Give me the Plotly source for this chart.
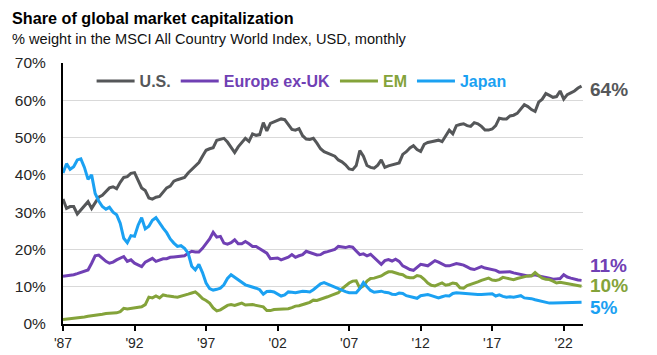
import pandas as pd
import plotly.graph_objects as go

# Quarterly readings (Jan 1987 .. Apr 2023), % weight in MSCI ACWI
us = [
    33.5, 31.0, 31.5, 31.5,  29.5, 30.5, 31.5, 32.8,  31.0, 32.5, 34.0, 34.5,
    35.5, 36.5, 36.8, 36.3,  38.0, 39.3, 39.5, 40.4,  40.6, 38.5, 36.5, 35.8,
    33.8, 33.5, 34.0, 34.2,  35.5, 36.5, 37.0, 38.3,  38.7, 39.0, 39.3, 40.5,
    41.5, 42.5, 43.3, 45.0,  46.6, 47.0, 47.3, 49.3,  49.6, 49.8, 48.8, 47.5,
    46.0, 47.5, 48.5, 49.8,  49.0, 51.0, 50.6, 50.8,  54.0, 51.8, 53.8, 54.2,
    54.7, 55.0, 54.8, 53.5,  52.2, 52.0, 52.4, 50.5,  49.6, 49.5, 49.8, 48.5,
    47.0, 46.2, 45.8, 45.5,  45.0, 44.0, 43.5, 42.7,  41.6, 41.4, 42.5, 46.5,
    45.0, 42.5, 42.0, 41.8,  42.6, 44.0, 42.0, 42.4,  42.7, 43.0, 43.2, 45.5,
    46.2, 47.2, 47.8, 46.8,  46.3, 48.2, 48.7, 48.9,  49.2, 49.3, 48.9, 50.5,
    52.0, 51.0, 53.2, 53.5,  53.7, 53.2, 53.0, 54.0,  53.7, 53.0, 52.0, 52.0,
    52.3, 53.2, 55.2, 55.0,  55.0, 55.8, 56.0, 56.5,  57.6, 58.8, 58.3, 57.5,
    57.0, 59.5, 60.3, 61.8,  61.3, 60.8, 61.0, 62.5,  60.3, 61.5, 62.0, 62.5,
    63.3, 63.8,
]
europe_ex_uk = [
    12.8, 12.9, 13.0, 13.2,  13.5, 13.8, 14.1, 14.5,  16.3, 18.3, 18.5, 17.7,
    16.8, 16.3, 16.6, 17.2,  17.7, 18.1, 16.8, 17.2,  16.3, 15.9, 15.4, 16.6,
    17.2, 17.6, 16.8, 17.2,  17.5, 17.5, 17.9, 18.0,  18.1, 18.2, 18.3, 19.0,
    19.5, 19.3, 19.3, 20.3,  21.5, 22.8, 24.6, 23.3,  23.5, 21.7, 21.4, 21.8,
    22.6, 21.5, 21.5, 22.1,  21.5, 20.8, 20.8, 20.2,  19.8, 19.0, 17.5, 17.5,
    17.7, 17.2, 17.6, 17.9,  18.6, 17.9, 18.3, 18.6,  19.5, 19.2, 19.0, 18.5,
    18.6, 19.2, 19.4, 19.8,  20.0, 20.8, 20.6, 20.5,  20.8, 20.6, 19.6, 18.6,
    18.8, 18.3, 18.7, 17.8,  16.9, 16.0, 17.0, 17.3,  16.9, 17.4, 16.8, 15.6,
    15.1, 14.6, 14.4, 15.1,  16.0, 15.8, 15.6, 16.3,  17.0, 16.6, 16.0, 15.6,
    15.6, 16.0, 16.2, 16.0,  15.8, 15.3, 14.8, 14.6,  15.0, 15.4, 15.0, 14.8,
    14.6, 14.4, 13.9, 14.0,  14.1, 14.0, 13.7, 13.5,  13.3, 13.1, 12.9, 13.0,
    13.2, 12.9, 12.8, 12.5,  12.3, 12.0, 12.1, 12.2,  13.2, 12.6, 12.3, 12.0,
    11.8, 11.7,
]
em = [
    1.2, 1.3, 1.3, 1.4,  1.5, 1.7, 1.9, 2.1,  2.2, 2.3, 2.5, 2.6,
    2.8, 2.8, 2.9, 3.0,  3.3, 4.2, 4.0, 4.1,  4.3, 4.4, 4.6, 5.2,
    7.2, 7.0, 7.5, 7.0,  7.8, 7.6, 7.4, 7.3,  7.2, 7.4, 7.6, 8.0,
    8.3, 8.6, 7.8, 6.8,  6.3, 5.6, 4.3, 3.5,  3.8, 4.5, 5.0, 5.2,
    5.0, 5.3, 5.6, 5.1,  5.2, 5.2, 5.0, 4.9,  4.6, 3.6, 3.6, 3.9,
    3.9, 3.9, 4.0, 4.1,  4.4, 4.8, 4.9, 5.1,  5.5, 5.8, 6.4, 6.3,
    6.6, 6.8, 7.3, 7.7,  8.0, 8.4, 9.4, 10.2,  11.0, 11.5, 11.6, 9.6,
    10.2, 11.5, 12.2, 12.3,  12.6, 12.9, 13.5, 14.0,  14.0, 13.6, 13.4, 13.2,
    12.6, 12.4, 12.4, 13.0,  12.8, 12.0, 11.0, 10.4,  10.2, 10.6, 11.0, 10.4,
    10.6, 11.0, 10.8, 9.7,  9.6, 10.3, 10.7, 11.1,  11.3, 11.7, 12.0, 12.3,
    11.8, 11.7, 11.9, 12.5,  12.3, 12.0, 11.9, 12.2,  12.5, 12.8, 12.9, 12.9,
    13.8, 13.0, 12.3, 12.0,  11.9, 11.5, 11.0, 11.2,  11.0, 10.8, 10.5, 10.3,
    10.2, 10.1,
]
japan = [
    40.5, 43.0, 41.5, 42.2,  44.0, 44.3, 42.0, 38.8,  40.0, 35.0, 33.0, 31.5,
    30.8, 31.3, 30.0, 29.3,  27.0, 23.0, 21.8, 23.7,  23.5, 26.5, 28.5, 25.5,
    26.2, 27.8, 28.5, 27.0,  25.7, 24.5, 22.8, 21.7,  20.8, 21.0, 20.3, 19.0,
    15.5, 14.5, 16.0, 13.8,  11.0, 9.5, 9.1, 9.3,  9.6, 10.5, 12.2, 13.2,
    12.5, 11.8, 11.0, 10.5,  10.2, 10.0, 9.6, 9.2,  8.0, 8.7, 8.8, 8.6,
    8.1, 7.5, 7.8, 8.6,  8.5, 8.4, 8.6, 8.8,  8.7, 8.6, 9.2, 9.9,
    10.8, 11.1, 10.7, 10.2,  9.7, 9.4, 9.0, 8.7,  8.4, 8.4, 8.4, 9.5,
    11.1, 10.0, 9.0, 8.5,  8.6, 8.8, 8.5, 8.4,  8.0, 7.9, 8.3, 8.2,
    7.6, 7.4, 7.0, 6.9,  7.6, 7.8, 7.9, 7.6,  7.4, 7.0, 7.3, 7.6,
    7.5, 8.2, 8.4, 8.3,  8.1, 8.1, 8.0, 8.0,  7.9, 7.9, 7.9, 8.0,
    8.1, 7.5, 7.8, 7.4,  7.2, 7.3, 7.2, 7.4,  7.6, 7.0, 7.0, 6.8,
    6.5, 6.3, 6.0, 5.8,  5.6, 5.6, 5.6, 5.7,  5.8, 5.8, 5.8, 5.8,
    5.8, 5.8,
]

series_names = ["U.S.", "Europe ex-UK", "EM", "Japan"]
series_colors = ["#555759", "#7040B4", "#84A33A", "#1BA1F2"]
end_labels = ["64%", "11%", "10%", "5%"]
end_label_y = [63.0, 15.8, 10.4, 4.3]

tick_years = [1987, 1992, 1997, 2002, 2007, 2012, 2017, 2022]
tick_labels = ["'87", "'92", "'97", "'02", "'07", "'12", "'17", "'22"]

dates = pd.date_range("1987-01-01", periods=len(us), freq="3MS")

FONT = "Liberation Sans, Arial, sans-serif"

fig = go.Figure()
for vals, name, col in zip([us, europe_ex_uk, em, japan], series_names, series_colors):
    fig.add_trace(go.Scatter(
        x=dates, y=vals, mode="lines", name=f"<span style='color:{col}'><b>{name}</b></span>",
        line=dict(color=col, width=3), hoverinfo="skip",
    ))

annotations = [
    dict(text="<b>Share of global market capitalization</b>", xref="paper", yref="paper",
         x=-0.102, y=1.171, xanchor="left", yanchor="middle", showarrow=False,
         font=dict(family=FONT, size=16.2, color="#000000")),
    dict(text="% weight in the MSCI All Country World Index, USD, monthly", xref="paper", yref="paper",
         x=-0.102, y=1.093, xanchor="left", yanchor="middle", showarrow=False,
         font=dict(family=FONT, size=14.6, color="#111111")),
]
for lab, ly, col in zip(end_labels, end_label_y, series_colors):
    annotations.append(dict(text=f"<b>{lab}</b>", xref="paper", yref="y", x=1.0, y=ly,
                            xanchor="left", yanchor="middle", xshift=5, showarrow=False,
                            font=dict(family=FONT, size=19, color=col)))

# page body has an 8px margin, so the figure is drawn 8px smaller and margins shifted
fig.update_layout(
    template="none",
    width=649, height=347, autosize=False,
    margin=dict(l=55, r=74, t=55, b=31, autoexpand=False),
    paper_bgcolor="white", plot_bgcolor="white",
    font=dict(family=FONT, size=14, color="#262626"),
    showlegend=True,
    legend=dict(orientation="h", x=0.055, y=0.931, xanchor="left", yanchor="middle",
                bgcolor="rgba(0,0,0,0)", font=dict(family=FONT, size=16),
                itemwidth=38, tracegroupgap=0),
    annotations=annotations,
)
fig.update_xaxes(
    type="date", range=["1987-01-01", "2023-05-08"],
    tickvals=[pd.Timestamp(f"{y}-01-01") for y in tick_years], ticktext=tick_labels,
    showline=True, linecolor="#000000", linewidth=2,
    ticks="outside", ticklen=5, tickwidth=1.5, tickcolor="#000000",
    showgrid=False, zeroline=False, automargin=False,
    tickfont=dict(size=14, color="#262626"),
)
fig.update_yaxes(
    range=[0, 70], tickvals=[0, 10, 20, 30, 40, 50, 60, 70],
    ticktext=["0%", "10%", "20%", "30%", "40%", "50%", "60%", "70%"],
    showline=True, linecolor="#000000", linewidth=2,
    showgrid=True, gridcolor="#D9D9D9", gridwidth=1, zeroline=False, automargin=False,
    ticks="", ticklabelstandoff=12, tickfont=dict(size=15.5, color="#262626"),
)

fig.write_html("out.html")
